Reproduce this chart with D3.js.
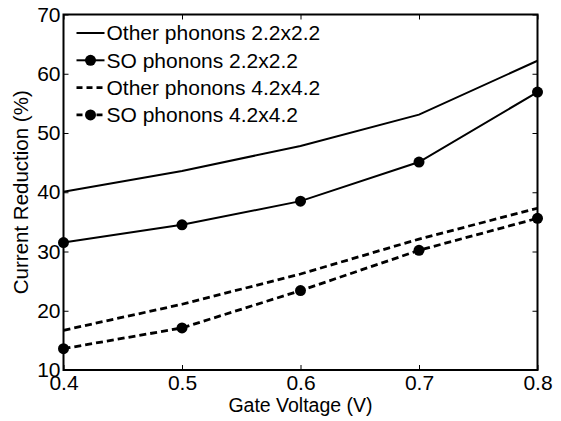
<!DOCTYPE html>
<html>
<head>
<meta charset="utf-8">
<script src="https://cdn.jsdelivr.net/npm/d3@7"></script>
<style>
  body { margin: 0; background: #fff; }
  svg text { font-family: "Liberation Sans", Arial, Helvetica, sans-serif; fill: #000; }
</style>
</head>
<body>
<svg id="chart" width="561" height="421"></svg>
<script>
// gate voltages (V)
var voltages = [0.4, 0.5, 0.6, 0.7, 0.8];
// current reduction (%) per series
var other22 = [40.1, 43.6, 47.8, 53.1, 62.2];
var so22 = [31.5, 34.5, 38.5, 45.1, 56.9];
var other42 = [16.7, 21.1, 26.2, 32.1, 37.3];
var so42 = [13.6, 17.1, 23.4, 30.2, 35.6];
var seriesNames = ["Other phonons 2.2x2.2", "SO phonons 2.2x2.2", "Other phonons 4.2x4.2", "SO phonons 4.2x4.2"];
var xTicks = [0.4, 0.5, 0.6, 0.7, 0.8];
var yTicks = [10, 20, 30, 40, 50, 60, 70];

var series = [
	{ name: seriesNames[0], values: other22, dashed: false, markers: false },
	{ name: seriesNames[1], values: so22, dashed: false, markers: true },
	{ name: seriesNames[2], values: other42, dashed: true, markers: false },
	{ name: seriesNames[3], values: so42, dashed: true, markers: true }
];

var margin = { top: 14.5, right: 23.5, bottom: 51, left: 63.5 };
var width = 561 - margin.left - margin.right,
	height = 421 - margin.top - margin.bottom;

var svg = d3.select("#chart");
var g = svg.append("g").attr("transform", "translate(" + margin.left + "," + margin.top + ")");

var x = d3.scaleLinear().domain([0.4, 0.8]).range([0, width]);
var y = d3.scaleLinear().domain([10, 70]).range([height, 0]);

// axes with inward ticks on all four sides
var tickLen = 5;
g.append("g").attr("transform", "translate(0," + height + ")")
	.call(d3.axisBottom(x).tickValues(xTicks).tickSizeInner(-tickLen).tickSizeOuter(0).tickPadding(5).tickFormat(d3.format(".1f")));
g.append("g")
	.call(d3.axisTop(x).tickValues(xTicks).tickSizeInner(-tickLen).tickSizeOuter(0).tickFormat(""));
g.append("g")
	.call(d3.axisLeft(y).tickValues(yTicks).tickSizeInner(-tickLen).tickSizeOuter(0).tickPadding(3));
g.append("g").attr("transform", "translate(" + width + ",0)")
	.call(d3.axisRight(y).tickValues(yTicks).tickSizeInner(-tickLen).tickSizeOuter(0).tickFormat(""));

g.selectAll(".domain").remove();
g.selectAll(".tick line").attr("stroke", "#000").attr("stroke-width", 1);
g.selectAll(".tick text").style("font-size", "21px");

// box
g.append("rect")
	.attr("width", width).attr("height", height)
	.attr("fill", "none").attr("stroke", "#000").attr("stroke-width", 2);

var line = d3.line()
	.x(function(d, i) { return x(voltages[i]); })
	.y(function(d) { return y(d); });

series.forEach(function(s) {
	g.append("path")
		.datum(s.values)
		.attr("fill", "none")
		.attr("stroke", "#000")
		.attr("stroke-width", s.dashed ? 2.8 : 2)
		.attr("stroke-dasharray", s.dashed ? "7,4" : null)
		.attr("d", line);
	if (s.markers) {
		g.selectAll(null)
			.data(s.values)
			.enter().append("circle")
			.attr("cx", function(d, i) { return x(voltages[i]); })
			.attr("cy", function(d) { return y(d); })
			.attr("r", 5.5)
			.attr("fill", "#000");
	}
});

// legend
var legend = g.append("g").attr("transform", "translate(13,18.5)");
series.forEach(function(s, i) {
	var row = legend.append("g").attr("transform", "translate(0," + (i * 27.3) + ")");
	row.append("line")
		.attr("x1", 0).attr("x2", 28)
		.attr("stroke", "#000")
		.attr("stroke-width", s.dashed ? 2.8 : 2)
		.attr("stroke-dasharray", s.dashed ? "6,4" : null);
	if (s.markers) {
		row.append("circle").attr("cx", 14).attr("r", 5.5).attr("fill", "#000");
	}
	row.append("text")
		.attr("x", 30).attr("dy", "0.35em")
		.style("font-size", "21px")
		.text(s.name);
});

// axis labels
svg.append("text")
	.attr("x", margin.left + width / 2).attr("y", 412)
	.attr("text-anchor", "middle")
	.style("font-size", "19.5px")
	.text("Gate Voltage (V)");
svg.append("text")
	.attr("transform", "translate(28," + (margin.top + height / 2) + ") rotate(-90)")
	.attr("text-anchor", "middle")
	.style("font-size", "20.5px")
	.text("Current Reduction (%)");
</script>
</body>
</html>
